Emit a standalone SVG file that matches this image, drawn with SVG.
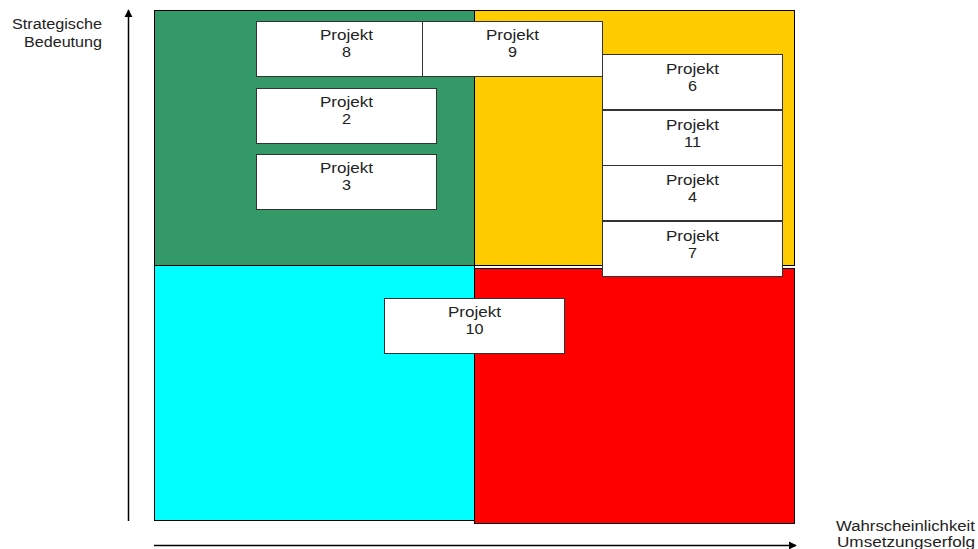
<svg xmlns="http://www.w3.org/2000/svg" width="978" height="549" viewBox="0 0 978 549">
<style>
  .q { stroke: #000; stroke-width: 1; }
  .box { fill: #fff; stroke: #333; stroke-width: 1; }
  .t { font-family: "Liberation Sans", Arial, sans-serif; font-size: 14px; fill: #222; text-anchor: middle; }
  .lbl { font-family: "Liberation Sans", Arial, sans-serif; font-size: 14px; fill: #222; }
  .axis { stroke: #000; stroke-width: 1.5; fill: none; }
</style>
<defs>
  <marker id="arr" viewBox="0 0 10 10" refX="9" refY="5" markerWidth="5.5" markerHeight="5.5" markerUnits="strokeWidth" orient="auto">
    <path d="M0,0 L10,5 L0,10 z" fill="#000"/>
  </marker>
</defs>
<rect width="978" height="549" fill="#fff"/>
<g id="quadrants">
  <rect id="q-green" class="q" x="154.5" y="10.5" width="320" height="255" fill="#339966"/>
  <rect id="q-yellow" class="q" x="474.5" y="10.5" width="320" height="255" fill="#FFCC00"/>
  <rect id="q-cyan" class="q" x="154.5" y="265.5" width="320" height="255" fill="#00FFFF"/>
  <rect id="q-red" class="q" x="474.5" y="268.5" width="320" height="255" fill="#FF0000"/>
</g>
<g id="connectors">
  <line class="axis" x1="128.5" y1="521" x2="128.5" y2="10" marker-end="url(#arr)"/>
  <line class="axis" x1="154" y1="545.5" x2="796" y2="545.5" marker-end="url(#arr)"/>
</g>
<g id="labels">
  <text class="lbl" x="102" y="29" text-anchor="end" textLength="90" lengthAdjust="spacingAndGlyphs">Strategische</text>
  <text class="lbl" x="102" y="46.5" text-anchor="end" textLength="78" lengthAdjust="spacingAndGlyphs">Bedeutung</text>
  <text class="lbl" x="836" y="531" textLength="139" lengthAdjust="spacingAndGlyphs">Wahrscheinlichkeit</text>
  <text class="lbl" x="837" y="547" textLength="138" lengthAdjust="spacingAndGlyphs">Umsetzungserfolg</text>
</g>
<g id="p8"><rect class="box" x="256.5" y="21.5" width="180" height="55"/><text class="t" x="346.5" y="40" textLength="53" lengthAdjust="spacingAndGlyphs">Projekt</text><text class="t" x="346.5" y="57" textLength="9" lengthAdjust="spacingAndGlyphs">8</text></g>
<g id="p9"><rect class="box" x="422.5" y="21.5" width="180" height="55"/><text class="t" x="512.5" y="40" textLength="53" lengthAdjust="spacingAndGlyphs">Projekt</text><text class="t" x="512.5" y="57" textLength="9" lengthAdjust="spacingAndGlyphs">9</text></g>
<g id="p2"><rect class="box" x="256.5" y="88.5" width="180" height="55"/><text class="t" x="346.5" y="107" textLength="53" lengthAdjust="spacingAndGlyphs">Projekt</text><text class="t" x="346.5" y="124" textLength="9" lengthAdjust="spacingAndGlyphs">2</text></g>
<g id="p3"><rect class="box" x="256.5" y="154.5" width="180" height="55"/><text class="t" x="346.5" y="173" textLength="53" lengthAdjust="spacingAndGlyphs">Projekt</text><text class="t" x="346.5" y="190" textLength="9" lengthAdjust="spacingAndGlyphs">3</text></g>
<g id="p6"><rect class="box" x="602.5" y="54.5" width="180" height="55"/><text class="t" x="692.5" y="74" textLength="53" lengthAdjust="spacingAndGlyphs">Projekt</text><text class="t" x="692.5" y="91" textLength="9" lengthAdjust="spacingAndGlyphs">6</text></g>
<g id="p11"><rect class="box" x="602.5" y="110.5" width="180" height="55"/><text class="t" x="692.5" y="129.5" textLength="53" lengthAdjust="spacingAndGlyphs">Projekt</text><text class="t" x="692.5" y="146.5" textLength="17" lengthAdjust="spacingAndGlyphs">11</text></g>
<g id="p4"><rect class="box" x="602.5" y="165.5" width="180" height="55"/><text class="t" x="692.5" y="185" textLength="53" lengthAdjust="spacingAndGlyphs">Projekt</text><text class="t" x="692.5" y="202" textLength="9" lengthAdjust="spacingAndGlyphs">4</text></g>
<g id="p7"><rect class="box" x="602.5" y="221.5" width="180" height="55"/><text class="t" x="692.5" y="240.5" textLength="53" lengthAdjust="spacingAndGlyphs">Projekt</text><text class="t" x="692.5" y="257.5" textLength="9" lengthAdjust="spacingAndGlyphs">7</text></g>
<g id="p10"><rect class="box" x="384.5" y="298.5" width="180" height="55"/><text class="t" x="474.5" y="317" textLength="53" lengthAdjust="spacingAndGlyphs">Projekt</text><text class="t" x="474.5" y="334" textLength="18" lengthAdjust="spacingAndGlyphs">10</text></g>
</svg>
